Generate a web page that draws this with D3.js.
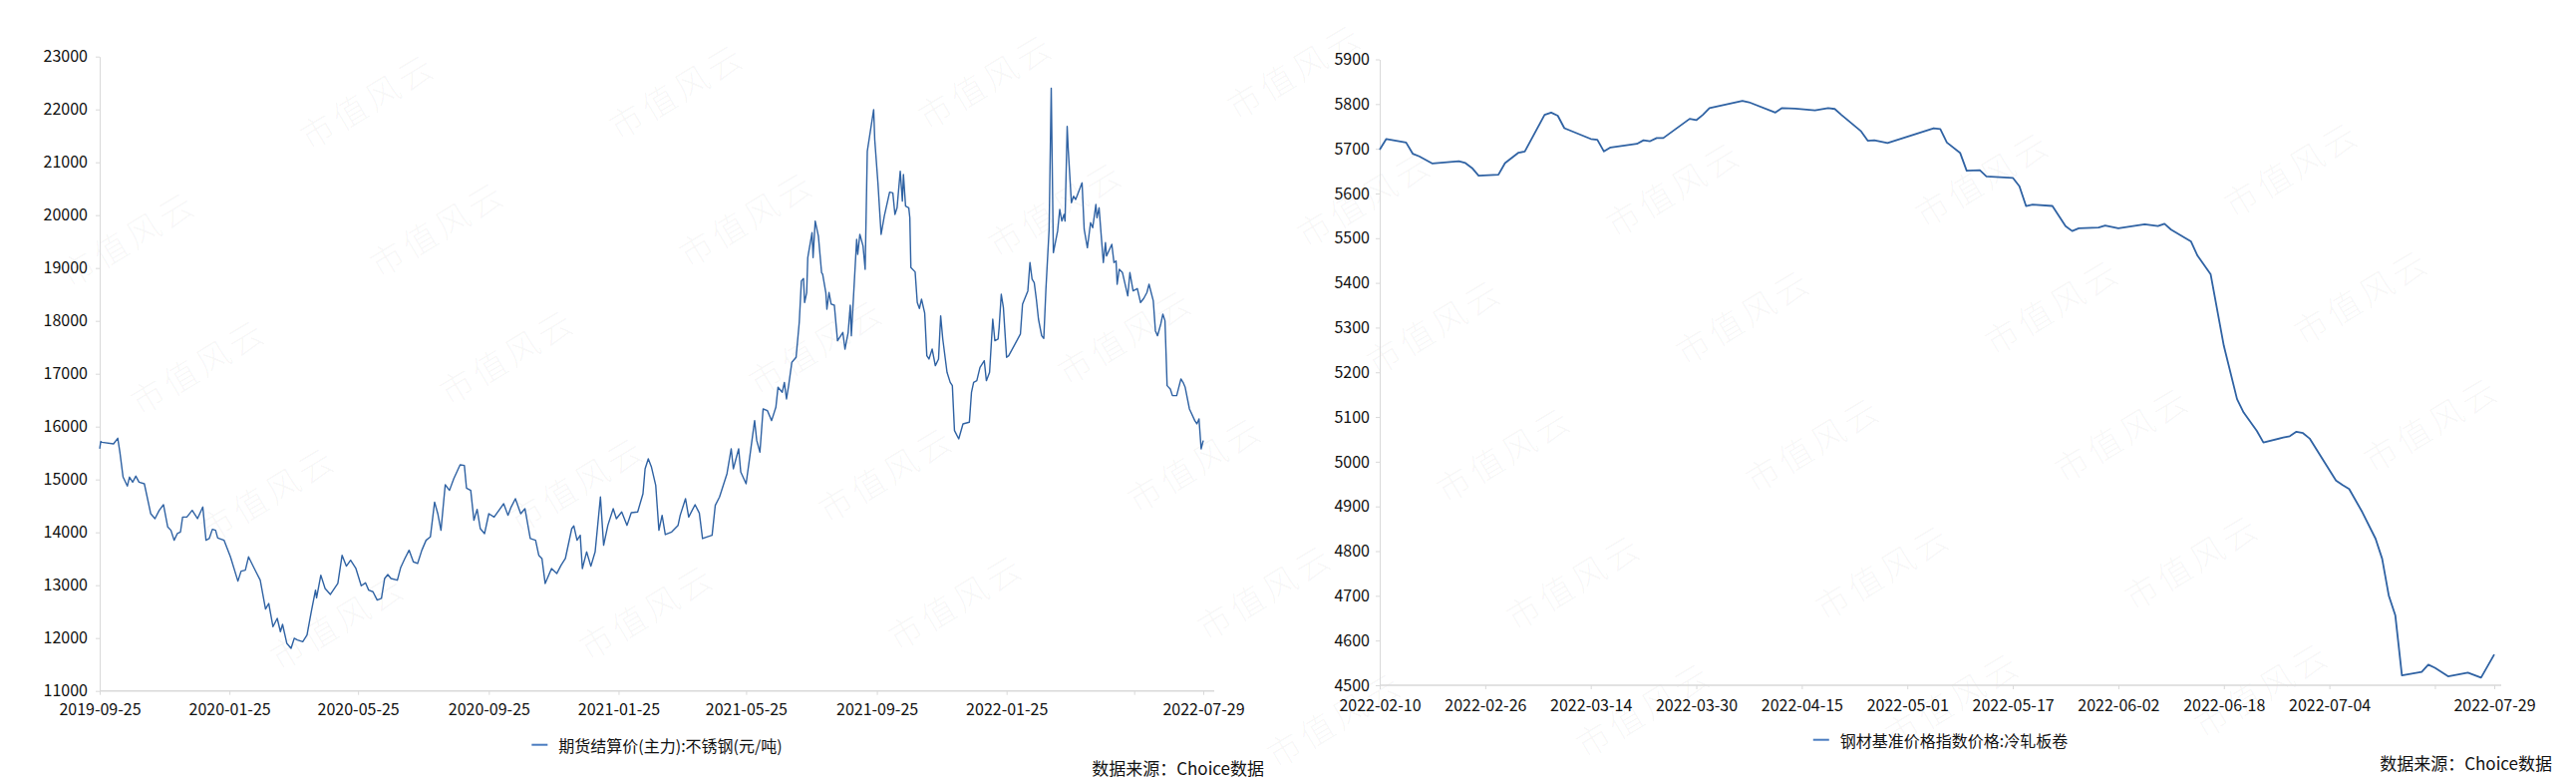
<!DOCTYPE html>
<html>

<head>
  <meta charset="utf-8">
  <title>不锈钢期货与冷轧板卷价格</title>
  <style>
    body { margin: 0; background: #fff; }
    svg { display: block; font-family: "Noto Sans CJK SC", "Noto Sans", sans-serif; }
  </style>
</head>

<body>
  <svg width="2584" height="784"></svg>
  <script src="https://d3js.org/d3.v7.min.js"></script>
  <script>
    // 期货结算价(主力):不锈钢(元/吨)
    var futSeries = [
      ["2019-09-25", 15580], ["2019-09-26", 15718], ["2019-09-27", 15705], ["2019-10-08", 15674], ["2019-10-12", 15781],
      ["2019-10-14", 15517], ["2019-10-17", 15045], ["2019-10-21", 14875], ["2019-10-23", 15045], ["2019-10-26", 14950],
      ["2019-10-29", 15064], ["2019-11-01", 14950], ["2019-11-06", 14919], ["2019-11-12", 14353], ["2019-11-16", 14259],
      ["2019-11-20", 14416], ["2019-11-24", 14523], ["2019-11-28", 14102], ["2019-12-01", 14039], ["2019-12-04", 13850],
      ["2019-12-07", 13976], ["2019-12-10", 14008], ["2019-12-12", 14290], ["2019-12-16", 14290], ["2019-12-21", 14416],
      ["2019-12-26", 14259], ["2019-12-31", 14479], ["2020-01-03", 13850], ["2020-01-06", 13882], ["2020-01-09", 14058],
      ["2020-01-12", 14039], ["2020-01-14", 13894], ["2020-01-20", 13850], ["2020-01-26", 13536], ["2020-02-02", 13077],
      ["2020-02-05", 13265], ["2020-02-09", 13284], ["2020-02-12", 13536], ["2020-02-19", 13253], ["2020-02-23", 13095],
      ["2020-02-28", 12548], ["2020-03-02", 12655], ["2020-03-06", 12215], ["2020-03-10", 12372], ["2020-03-13", 12121],
      ["2020-03-15", 12259], ["2020-03-19", 11901], ["2020-03-23", 11806], ["2020-03-26", 11995], ["2020-03-29", 11964],
      ["2020-04-03", 11932], ["2020-04-07", 12058], ["2020-04-11", 12498], ["2020-04-15", 12907], ["2020-04-16", 12762],
      ["2020-04-20", 13190], ["2020-04-24", 12938], ["2020-04-29", 12825], ["2020-05-06", 13033], ["2020-05-10", 13567],
      ["2020-05-14", 13360], ["2020-05-18", 13473], ["2020-05-23", 13316], ["2020-05-28", 12989], ["2020-06-01", 13045],
      ["2020-06-04", 12907], ["2020-06-08", 12876], ["2020-06-12", 12718], ["2020-06-16", 12750], ["2020-06-19", 13127],
      ["2020-06-22", 13202], ["2020-06-25", 13127], ["2020-07-01", 13095], ["2020-07-04", 13328], ["2020-07-08", 13504],
      ["2020-07-12", 13662], ["2020-07-16", 13442], ["2020-07-20", 13410], ["2020-07-24", 13662], ["2020-07-28", 13850],
      ["2020-08-01", 13913], ["2020-08-05", 14573], ["2020-08-08", 14353], ["2020-08-11", 14039], ["2020-08-15", 14900],
      ["2020-08-19", 14794], ["2020-08-23", 15014], ["2020-08-29", 15278], ["2020-09-02", 15265], ["2020-09-04", 14838],
      ["2020-09-08", 14794], ["2020-09-11", 14227], ["2020-09-14", 14435], ["2020-09-17", 14070], ["2020-09-21", 13976],
      ["2020-09-25", 14353], ["2020-09-30", 14290], ["2020-10-09", 14542], ["2020-10-13", 14322], ["2020-10-16", 14479],
      ["2020-10-20", 14636], ["2020-10-25", 14353], ["2020-10-29", 14448], ["2020-11-03", 13882], ["2020-11-08", 13850],
      ["2020-11-11", 13567], ["2020-11-14", 13504], ["2020-11-17", 13033], ["2020-11-23", 13316], ["2020-11-28", 13222],
      ["2020-12-02", 13379], ["2020-12-06", 13504], ["2020-12-12", 14070], ["2020-12-14", 14121], ["2020-12-17", 13850],
      ["2020-12-20", 13944], ["2020-12-22", 13316], ["2020-12-26", 13630], ["2020-12-30", 13360], ["2021-01-03", 13630],
      ["2021-01-08", 14668], ["2021-01-11", 13756], ["2021-01-15", 14133], ["2021-01-20", 14448], ["2021-01-23", 14259],
      ["2021-01-28", 14385], ["2021-02-02", 14133], ["2021-02-06", 14372], ["2021-02-12", 14385], ["2021-02-17", 14731],
      ["2021-02-19", 15202], ["2021-02-22", 15391], ["2021-02-25", 15234], ["2021-03-01", 14888], ["2021-03-04", 14039],
      ["2021-03-07", 14322], ["2021-03-10", 13957], ["2021-03-16", 14008], ["2021-03-22", 14133], ["2021-03-24", 14322],
      ["2021-03-29", 14636], ["2021-04-01", 14290], ["2021-04-07", 14523], ["2021-04-11", 14365], ["2021-04-14", 13882],
      ["2021-04-18", 13913], ["2021-04-23", 13944], ["2021-04-26", 14511], ["2021-04-30", 14668], ["2021-05-07", 15108],
      ["2021-05-11", 15580], ["2021-05-13", 15202], ["2021-05-18", 15580], ["2021-05-20", 15139], ["2021-05-25", 14919],
      ["2021-05-28", 15360], ["2021-06-02", 16114], ["2021-06-04", 15737], ["2021-06-07", 15517], ["2021-06-10", 16334],
      ["2021-06-14", 16303], ["2021-06-18", 16114], ["2021-06-22", 16366], ["2021-06-24", 16743], ["2021-06-28", 16649],
      ["2021-06-30", 16837], ["2021-07-02", 16523], ["2021-07-04", 16775], ["2021-07-07", 17215], ["2021-07-11", 17309],
      ["2021-07-14", 17970], ["2021-07-16", 18756], ["2021-07-18", 18800], ["2021-07-19", 18347], ["2021-07-21", 18536],
      ["2021-07-22", 19196], ["2021-07-26", 19668], ["2021-07-27", 19196], ["2021-07-29", 19888], ["2021-08-01", 19605],
      ["2021-08-04", 18913], ["2021-08-05", 18882], ["2021-08-08", 18536], ["2021-08-09", 18221], ["2021-08-11", 18536],
      ["2021-08-13", 18316], ["2021-08-16", 18297], ["2021-08-19", 17624], ["2021-08-24", 17781], ["2021-08-26", 17466],
      ["2021-08-29", 17781], ["2021-08-31", 18297], ["2021-09-01", 17718], ["2021-09-06", 19542], ["2021-09-07", 19259],
      ["2021-09-09", 19637], ["2021-09-12", 19416], ["2021-09-14", 18976], ["2021-09-16", 21209], ["2021-09-22", 21995],
      ["2021-09-23", 21429], ["2021-09-26", 20611], ["2021-09-29", 19637], ["2021-10-02", 19982], ["2021-10-07", 20435],
      ["2021-10-10", 20422], ["2021-10-12", 20014], ["2021-10-14", 20139], ["2021-10-17", 20831], ["2021-10-19", 20265],
      ["2021-10-20", 20768], ["2021-10-22", 20171], ["2021-10-25", 20139], ["2021-10-26", 19951], ["2021-10-27", 19007],
      ["2021-10-31", 18926], ["2021-11-02", 18347], ["2021-11-04", 18234], ["2021-11-06", 18410], ["2021-11-09", 18146],
      ["2021-11-11", 17341], ["2021-11-13", 17278], ["2021-11-16", 17466], ["2021-11-19", 17152], ["2021-11-22", 17278],
      ["2021-11-24", 18095], ["2021-11-26", 17655], ["2021-11-30", 17026], ["2021-12-03", 16837], ["2021-12-05", 16775],
      ["2021-12-07", 15926], ["2021-12-11", 15768], ["2021-12-15", 16051], ["2021-12-21", 16083], ["2021-12-23", 16649],
      ["2021-12-25", 16837], ["2021-12-28", 16869], ["2021-12-31", 17120], ["2022-01-04", 17246], ["2022-01-06", 16869],
      ["2022-01-09", 17026], ["2022-01-12", 18032], ["2022-01-14", 17624], ["2022-01-17", 17655], ["2022-01-18", 17875],
      ["2022-01-20", 18504], ["2022-01-22", 18253], ["2022-01-25", 17309], ["2022-01-27", 17341], ["2022-02-07", 17750],
      ["2022-02-09", 18316], ["2022-02-14", 18567], ["2022-02-16", 19102], ["2022-02-18", 18787], ["2022-02-20", 18724],
      ["2022-02-22", 18410], ["2022-02-24", 18032], ["2022-02-27", 17718], ["2022-03-01", 17668], ["2022-03-03", 18599],
      ["2022-03-06", 19731], ["2022-03-08", 22403], ["2022-03-10", 19290], ["2022-03-14", 19699], ["2022-03-16", 20108],
      ["2022-03-18", 19888], ["2022-03-20", 20014], ["2022-03-21", 19888], ["2022-03-23", 21678], ["2022-03-24", 21240],
      ["2022-03-27", 20234], ["2022-03-29", 20359], ["2022-03-31", 20296], ["2022-04-06", 20611], ["2022-04-08", 19731],
      ["2022-04-11", 19385], ["2022-04-14", 19857], ["2022-04-16", 19762], ["2022-04-19", 20202], ["2022-04-20", 19951],
      ["2022-04-22", 20139], ["2022-04-26", 19102], ["2022-04-28", 19479], ["2022-04-29", 19227], ["2022-05-04", 19448],
      ["2022-05-06", 19102], ["2022-05-08", 19133], ["2022-05-09", 18693], ["2022-05-11", 18976], ["2022-05-14", 18913],
      ["2022-05-19", 18473], ["2022-05-21", 18913], ["2022-05-24", 18567], ["2022-05-28", 18611], ["2022-05-31", 18347],
      ["2022-06-03", 18423], ["2022-06-06", 18536], ["2022-06-08", 18693], ["2022-06-12", 18379], ["2022-06-14", 17812],
      ["2022-06-16", 17718], ["2022-06-19", 17938], ["2022-06-21", 18127], ["2022-06-23", 18001], ["2022-06-25", 16775],
      ["2022-06-28", 16712], ["2022-06-30", 16586], ["2022-07-04", 16586], ["2022-07-08", 16901], ["2022-07-10", 16837],
      ["2022-07-12", 16743], ["2022-07-16", 16334], ["2022-07-21", 16114], ["2022-07-23", 16051], ["2022-07-25", 16146],
      ["2022-07-27", 15580], ["2022-07-29", 15737]
    ];

    // 钢材基准价格指数价格:冷轧板卷
    var coldSeries = [
      ["2022-02-10", 5698], ["2022-02-11", 5722], ["2022-02-14", 5714], ["2022-02-15", 5689], ["2022-02-16", 5683],
      ["2022-02-18", 5667], ["2022-02-22", 5672], ["2022-02-23", 5668], ["2022-02-24", 5657], ["2022-02-25", 5640],
      ["2022-02-28", 5642], ["2022-03-01", 5668], ["2022-03-03", 5691], ["2022-03-04", 5694], ["2022-03-07", 5776],
      ["2022-03-08", 5781], ["2022-03-09", 5774], ["2022-03-10", 5746], ["2022-03-14", 5722], ["2022-03-15", 5720],
      ["2022-03-16", 5694], ["2022-03-17", 5703], ["2022-03-21", 5711], ["2022-03-22", 5719], ["2022-03-23", 5717],
      ["2022-03-24", 5724], ["2022-03-25", 5724], ["2022-03-29", 5767], ["2022-03-30", 5764], ["2022-03-31", 5776],
      ["2022-04-01", 5791], ["2022-04-06", 5807], ["2022-04-07", 5804], ["2022-04-11", 5781], ["2022-04-12", 5791],
      ["2022-04-14", 5790], ["2022-04-17", 5786], ["2022-04-19", 5791], ["2022-04-20", 5789], ["2022-04-21", 5776],
      ["2022-04-24", 5739], ["2022-04-25", 5718], ["2022-04-26", 5719], ["2022-04-28", 5713], ["2022-05-05", 5746],
      ["2022-05-06", 5744], ["2022-05-07", 5714], ["2022-05-09", 5691], ["2022-05-10", 5651], ["2022-05-12", 5652],
      ["2022-05-13", 5638], ["2022-05-17", 5635], ["2022-05-18", 5616], ["2022-05-19", 5572], ["2022-05-20", 5575],
      ["2022-05-23", 5572], ["2022-05-25", 5527], ["2022-05-26", 5516], ["2022-05-27", 5522], ["2022-05-30", 5524],
      ["2022-05-31", 5528], ["2022-06-02", 5522], ["2022-06-06", 5531], ["2022-06-08", 5527], ["2022-06-09", 5532],
      ["2022-06-10", 5519], ["2022-06-13", 5493], ["2022-06-14", 5461], ["2022-06-16", 5419], ["2022-06-18", 5259],
      ["2022-06-20", 5140], ["2022-06-21", 5110], ["2022-06-23", 5069], ["2022-06-24", 5043], ["2022-06-27", 5054],
      ["2022-06-28", 5057], ["2022-06-29", 5067], ["2022-06-30", 5064], ["2022-07-01", 5052], ["2022-07-05", 4958],
      ["2022-07-06", 4948], ["2022-07-07", 4939], ["2022-07-09", 4887], ["2022-07-11", 4828], ["2022-07-12", 4783],
      ["2022-07-13", 4701], ["2022-07-14", 4656], ["2022-07-15", 4522], ["2022-07-18", 4530], ["2022-07-19", 4546],
      ["2022-07-20", 4539], ["2022-07-22", 4520], ["2022-07-25", 4528], ["2022-07-27", 4517], ["2022-07-29", 4569]
    ];

    var leftTicks = ["2019-09-25", "2020-01-25", "2020-05-25", "2020-09-25", "2021-01-25",
      "2021-05-25", "2021-09-25", "2022-01-25", "2022-05-25", "2022-07-29"];
    var leftHidden = ["2022-05-25"];
    var rightTicks = ["2022-02-10", "2022-02-26", "2022-03-14", "2022-03-30", "2022-04-15", "2022-05-01",
      "2022-05-17", "2022-06-02", "2022-06-18", "2022-07-04", "2022-07-20", "2022-07-29"];
    var rightHidden = ["2022-07-20"];
    var leftYTicks = d3.range(11000, 23001, 1000);
    var rightYTicks = d3.range(4500, 5901, 100);

    var leftName = "期货结算价(主力):不锈钢(元/吨)";
    var rightName = "钢材基准价格指数价格:冷轧板卷";
    var sourceText = "数据来源：Choice数据";
    var watermark = "市值风云";

    var parse = d3.timeParse("%Y-%m-%d");
    var svg = d3.select("svg");
    var lineColor = "#2f62a3";
    var axisColor = "#d9d9d9";

    // faint diagonal watermark, only where it fits whole
    var wm = svg.append("g");
    for (var j = -1; j < 7; j++) {
      for (var i = -3; i < 10; i++) {
        var wx = 58 + i * 310 + j * 70, wy = 110 - i * 10 + j * 128;
        if (wx < 90 || wx > 2490 || wy < 70 || wy > 720) continue;
        wm.append("text")
          .attr("transform", "translate(" + wx + "," + wy + ") rotate(-31)")
          .attr("text-anchor", "middle")
          .attr("dominant-baseline", "central")
          .attr("font-size", 34)
          .attr("font-weight", 300)
          .attr("letter-spacing", 4)
          .attr("fill", "#000")
          .attr("fill-opacity", 0.04)
          .text(watermark);
      }
    }

    function drawChart(cfg) {
      var x = d3.scaleTime().domain([parse(cfg.ticks[0]), parse(cfg.ticks[cfg.ticks.length - 1])]).range(cfg.xr);
      var y = d3.scaleLinear().domain([cfg.yt[0], cfg.yt[cfg.yt.length - 1]]).range(cfg.yr);
      var g = svg.append("g");

      var yAxis = g.append("g")
        .attr("transform", "translate(" + cfg.xr[0] + ",0)")
        .call(d3.axisLeft(y).tickValues(cfg.yt).tickFormat(d3.format("d"))
          .tickSize(4).tickSizeOuter(0).tickPadding(cfg.yPad));
      yAxis.select(".domain").attr("stroke", axisColor);
      yAxis.selectAll(".tick line").attr("stroke", axisColor);
      yAxis.selectAll(".tick text").attr("font-size", 16).attr("fill", "#111")
        .attr("font-family", "'Noto Sans CJK SC', sans-serif");

      var xAxis = g.append("g")
        .attr("transform", "translate(0," + cfg.yr[0] + ")")
        .call(d3.axisBottom(x).tickValues(cfg.ticks.map(parse)).tickSize(4).tickSizeOuter(0)
          .tickPadding(cfg.xPad)
          .tickFormat(function (d) {
            var s = d3.timeFormat("%Y-%m-%d")(d);
            return cfg.hidden.indexOf(s) >= 0 ? "" : s;
          }));
      xAxis.select(".domain").remove();
      xAxis.selectAll(".tick line").attr("stroke", axisColor);
      xAxis.selectAll(".tick text").attr("font-size", 16).attr("fill", "#111")
        .attr("font-family", "'Noto Sans CJK SC', sans-serif");
      xAxis.append("line")
        .attr("x1", cfg.xr[0]).attr("x2", cfg.xr[1] + cfg.xExt)
        .attr("stroke", axisColor).attr("stroke-width", 1.5);

      var line = d3.line()
        .x(function (d) { return x(parse(d[0])); })
        .y(function (d) { return y(d[1]); });
      g.append("path")
        .attr("d", line(cfg.data))
        .attr("fill", "none")
        .attr("stroke", lineColor)
        .attr("stroke-width", cfg.lw)
        .attr("stroke-linejoin", "round");

      // legend, centred under the plot
      var lg = g.append("g");
      lg.append("line").attr("x1", 0).attr("x2", 16).attr("stroke", "#4a7cc0").attr("stroke-width", 2);
      var lt = lg.append("text").attr("x", 27).attr("dominant-baseline", "central")
        .attr("font-size", 16).attr("fill", "#111").text(cfg.name);
      var lw = 27 + lt.node().getComputedTextLength();
      var cx = (cfg.xr[0] + cfg.xr[1] + cfg.xExt) / 2;
      lg.attr("transform", "translate(" + (cx - lw / 2) + "," + cfg.legY + ")");

      g.append("text")
        .attr("x", cfg.srcX).attr("y", cfg.srcY)
        .attr("text-anchor", "end").attr("dominant-baseline", "central")
        .attr("font-size", 17).attr("fill", "#111")
        .text(sourceText);
    }

    drawChart({
      data: futSeries, ticks: leftTicks, hidden: leftHidden, yt: leftYTicks,
      xr: [100, 1207], yr: [692.7, 56.7], xExt: 11, yPad: 8, xPad: 9, lw: 1.4,
      name: leftName, legY: 746.7, srcX: 1268, srcY: 769
    });
    drawChart({
      data: coldSeries, ticks: rightTicks, hidden: rightHidden, yt: rightYTicks,
      xr: [1384, 2502], yr: [687, 59.5], xExt: 7, yPad: 6, xPad: 11, lw: 1.8,
      name: rightName, legY: 741.7, srcX: 2560, srcY: 764
    });
  </script>

</body>

</html>
